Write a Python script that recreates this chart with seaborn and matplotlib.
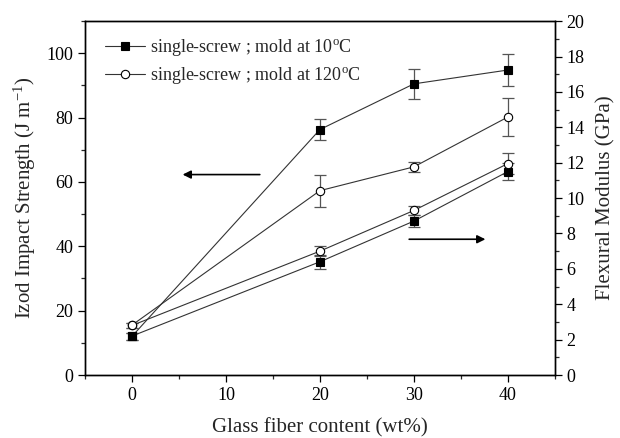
import numpy as np
import pandas as pd
import matplotlib
matplotlib.use("Agg")
import matplotlib.pyplot as plt
import seaborn as sns

# Glass fiber loading (wt%)
fiber = [0, 20, 30, 40]

# Izod impact strength (J/m) and errors
impact_10 = [12.0, 76.3, 90.5, 94.8]
impact_10_err = [1.0, 3.3, 4.7, 5.0]
impact_120 = [15.5, 57.3, 64.7, 80.2]
impact_120_err = [0.8, 5.0, 1.5, 6.0]

# Flexural modulus (GPa) and errors
modulus_10 = [2.2, 6.4, 8.7, 11.5]
modulus_10_err = [0.2, 0.4, 0.35, 0.5]
modulus_120 = [2.8, 7.0, 9.3, 11.95]
modulus_120_err = [0.15, 0.3, 0.25, 0.6]

labels = ["single-screw ; mold at 10$^{\\mathrm{o}}$C",
          "single-screw ; mold at 120$^{\\mathrm{o}}$C"]

sns.set_style("ticks")
plt.rcParams["font.family"] = ["Liberation Serif", "DejaVu Serif"]
plt.rcParams["mathtext.fontset"] = "custom"
plt.rcParams["mathtext.rm"] = "Liberation Serif"
plt.rcParams["mathtext.it"] = "Liberation Serif:italic"

fig = plt.figure(figsize=(6.2, 4.38), dpi=100)
ax = fig.add_axes([0.137, 0.1438, 0.758, 0.808])
ax2 = ax.twinx()

line_c = "#333333"
err_c = "#555555"

def draw(axis, y, err, marker, face, size, label=None):
    df = pd.DataFrame({"x": fiber, "y": y})
    sns.lineplot(data=df, x="x", y="y", ax=axis, color=line_c, lw=0.8,
                 marker=marker, markersize=size, markerfacecolor=face,
                 markeredgecolor="black", markeredgewidth=0.8,
                 label=label, legend=False)
    axis.errorbar(fiber, y, yerr=err, fmt="none", ecolor=err_c,
                  elinewidth=0.9, capsize=4, capthick=0.9, zorder=1)

draw(ax, impact_10, impact_10_err, "s", "black", 5.5, labels[0])
draw(ax, impact_120, impact_120_err, "o", "white", 6.0, labels[1])
draw(ax2, modulus_10, modulus_10_err, "s", "black", 5.5)
draw(ax2, modulus_120, modulus_120_err, "o", "white", 6.0)

ax.set_xlim(-5, 45)
ax.set_ylim(0, 110)
ax2.set_ylim(0, 20)

ax.set_xticks([0, 10, 20, 30, 40])
ax.set_xticks(np.arange(-5, 46, 5), minor=True)
ax.set_yticks(np.arange(0, 101, 20))
ax.set_yticks(np.arange(0, 111, 10), minor=True)
ax2.set_yticks(np.arange(0, 21, 2))
ax2.set_yticks(np.arange(0, 21, 1), minor=True)

for a in (ax, ax2):
    a.tick_params(which="major", direction="out", length=5, width=0.9,
                  labelsize=13, colors="black")
    a.tick_params(which="minor", direction="out", length=3, width=0.9)
    for s in a.spines.values():
        s.set_visible(True)
        s.set_linewidth(1.0)
        s.set_color("black")

ax.set_xlabel("Glass fiber content (wt%)", fontsize=15, labelpad=10)
ax.set_ylabel("Izod Impact Strength (J m$^{-1}$)", fontsize=15, labelpad=6)
ax2.set_ylabel("Flexural Modulus (GPa)", fontsize=15, labelpad=8)

# Arrows pointing to the corresponding axis
ax.annotate("", xy=(5.1, 62.3), xytext=(13.9, 62.3),
            arrowprops=dict(arrowstyle="-|>", color="black", lw=1.2,
                            mutation_scale=12))
ax.annotate("", xy=(37.9, 42.2), xytext=(29.2, 42.2),
            arrowprops=dict(arrowstyle="-|>", color="black", lw=1.2,
                            mutation_scale=12))

ax.legend(loc="upper left", bbox_to_anchor=(0.02, 0.985), frameon=False,
          fontsize=13, handlelength=2.2, handletextpad=0.3,
          labelspacing=0.4, borderaxespad=0.2)

fig.savefig("out.png", dpi=100)
